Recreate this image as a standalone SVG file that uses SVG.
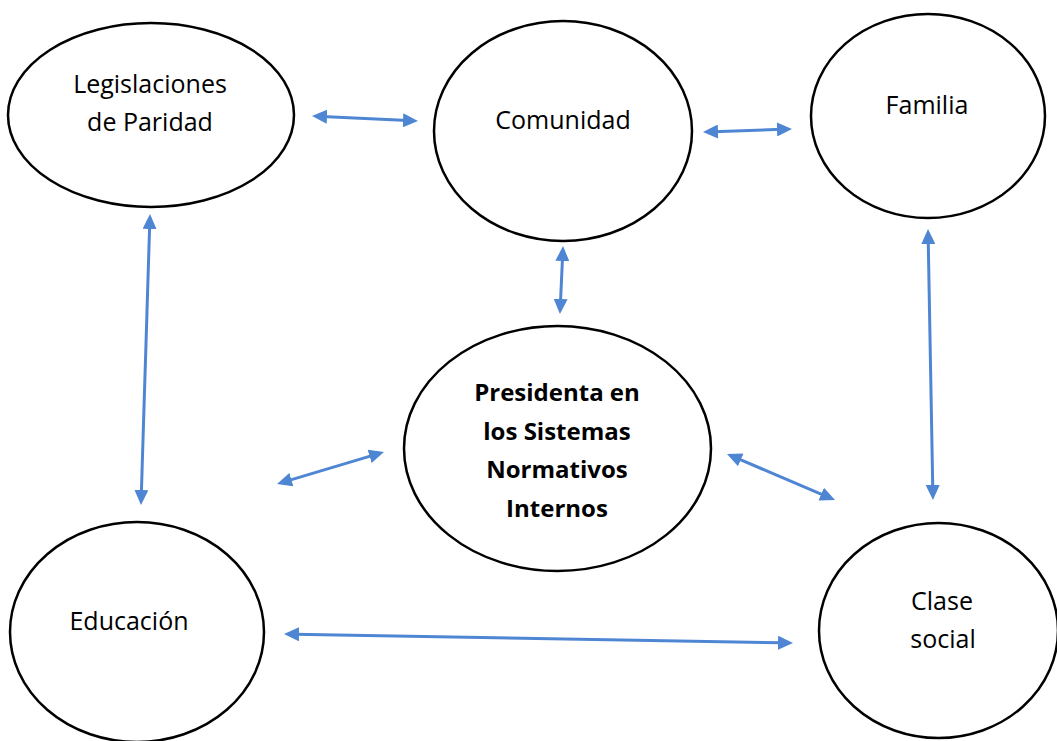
<svg xmlns="http://www.w3.org/2000/svg" width="1057" height="741" viewBox="0 0 1057 741">
  <style>
    .node ellipse { fill: #ffffff; stroke: #000000; stroke-width: 2.5; }
    .node text { font-family: "Open Sans", "Liberation Sans", sans-serif; font-size: 25px; fill: #000000; text-anchor: middle; }
    .node text.bold { font-weight: bold; font-size: 24px; }
    .conn line { stroke: #4F86D3; stroke-width: 3; marker-start: url(#ah); marker-end: url(#ah); }
  </style>
  <defs>
    <marker id="ah" markerUnits="userSpaceOnUse" markerWidth="15" markerHeight="14" refX="5" refY="7" orient="auto-start-reverse" viewBox="0 0 15 14">
      <path d="M0,0 L15,7 L0,14 Z" fill="#4F86D3"/>
    </marker>
  </defs>
  <rect width="1057" height="741" fill="#ffffff"/>

  <g id="legislaciones" class="node">
    <ellipse cx="151" cy="115" rx="143" ry="92"/>
    <text x="150" y="93">Legislaciones</text>
    <text x="150" y="131">de Paridad</text>
  </g>
  <g id="comunidad" class="node">
    <ellipse cx="563" cy="131" rx="129" ry="110"/>
    <text x="563" y="129">Comunidad</text>
  </g>
  <g id="familia" class="node">
    <ellipse cx="928" cy="116" rx="117" ry="102"/>
    <text x="927" y="114">Familia</text>
  </g>
  <g id="presidenta" class="node">
    <ellipse cx="557.5" cy="448.5" rx="153.5" ry="122.5"/>
    <text class="bold" x="557" y="401">Presidenta en</text>
    <text class="bold" x="557" y="440">los Sistemas</text>
    <text class="bold" x="557" y="478">Normativos</text>
    <text class="bold" x="557" y="517">Internos</text>
  </g>
  <g id="educacion" class="node">
    <ellipse cx="137" cy="632" rx="127" ry="110"/>
    <text x="129" y="630">Educación</text>
  </g>
  <g id="clase-social" class="node">
    <ellipse cx="938.5" cy="630.5" rx="119.5" ry="107.5"/>
    <text x="942" y="610">Clase</text>
    <text x="943" y="648">social</text>
  </g>

  <g id="connectors" class="conn">
    <line x1="322" y1="116.5" x2="408" y2="120.5"/>
    <line x1="713" y1="131.7" x2="782" y2="129.3"/>
    <line x1="562.6" y1="256" x2="560.4" y2="304"/>
    <line x1="149.7" y1="224" x2="141.3" y2="495"/>
    <line x1="928.2" y1="239" x2="932.8" y2="490"/>
    <line x1="286.6" y1="481.1" x2="374.4" y2="454.9"/>
    <line x1="736.2" y1="457.9" x2="825.8" y2="496.1"/>
    <line x1="294" y1="634.2" x2="783" y2="642.8"/>
  </g>
</svg>
